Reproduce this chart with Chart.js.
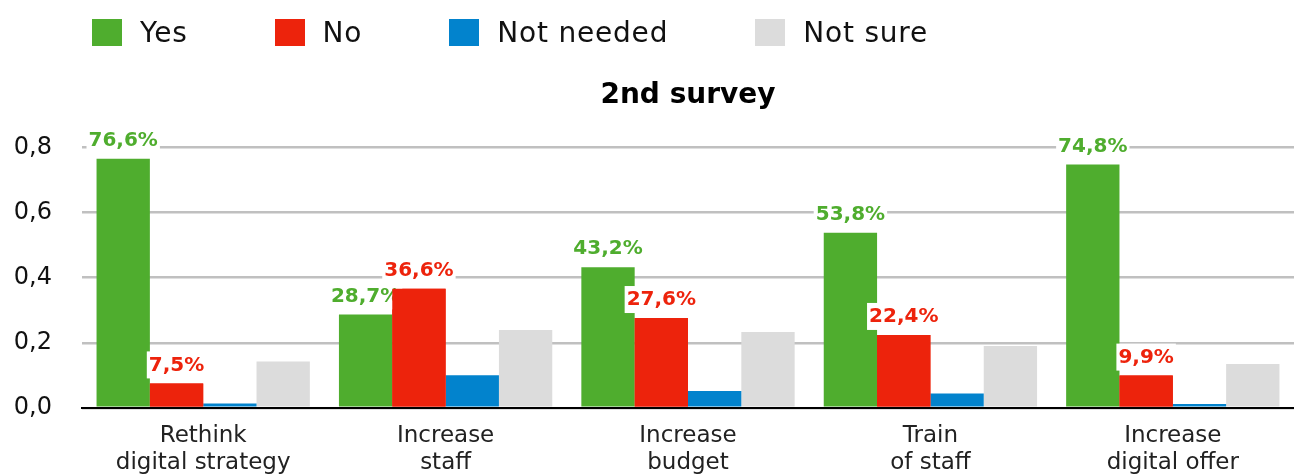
<!DOCTYPE html>
<html>
<head>
<meta charset="utf-8">
<script src="https://cdn.jsdelivr.net/npm/chart.js@4.4.1/dist/chart.umd.min.js"></script>
<style>
  html, body { margin: 0; padding: 0; background: #fff; overflow: hidden; }
  #wrap { position: relative; width: 1294px; height: 495px; }
  #legend { position: absolute; left: 92px; top: 16px; display: flex; align-items: center;
            font-family: "DejaVu Sans", sans-serif; font-size: 28px; color: #111; letter-spacing: 0.8px; }
  .item { display: flex; align-items: center; margin-right: 87px; }
  .sw { width: 30px; height: 27px; margin-right: 18px; }
  #chartBox { position: absolute; left: 0; top: 0; width: 1294px; height: 495px; }
</style>
</head>
<body>
<div id="wrap">
  <div id="chartBox"><canvas id="c"></canvas></div>
  <div id="legend"></div>
</div>
<script>
const categories = [
  ["Rethink", "digital strategy"],
  ["Increase", "staff"],
  ["Increase", "budget"],
  ["Train", "of staff"],
  ["Increase", "digital offer"]
];
const seriesNames = ["Yes", "No", "Not needed", "Not sure"];
const yesValues       = [0.766, 0.287, 0.432, 0.538, 0.748];
const noValues        = [0.075, 0.366, 0.276, 0.224, 0.099];
const notNeededValues = [0.013, 0.100, 0.052, 0.044, 0.012];
const notSureValues   = [0.142, 0.239, 0.233, 0.190, 0.135];
const yTicks = [0, 0.2, 0.4, 0.6, 0.8];
const titleText = "2nd survey";
const labelledSeries = [0, 1];

const colors = ["#4FAD2E", "#ED230C", "#0283CD", "#DCDCDC"];
const allValues = [yesValues, noValues, notNeededValues, notSureValues];

// HTML legend
const legend = document.getElementById('legend');
seriesNames.forEach((n, i) => {
  const it = document.createElement('div'); it.className = 'item';
  const sw = document.createElement('div'); sw.className = 'sw'; sw.style.background = colors[i];
  const tx = document.createElement('span'); tx.textContent = n;
  it.appendChild(sw); it.appendChild(tx); legend.appendChild(it);
});

const fmtPct = v => (v * 100).toFixed(1).replace('.', ',') + '%';

const valueLabels = {
  id: 'valueLabels',
  afterDatasetsDraw(chart) {
    const ctx = chart.ctx;
    const area = chart.chartArea;
    labelledSeries.forEach((di, k) => {
      const meta = chart.getDatasetMeta(di);
      // series drawn after the first one are painted again over previous labels
      if (k > 0) {
        ctx.save();
        ctx.beginPath();
        ctx.rect(area.left, area.top - 50, area.right - area.left, area.bottom - area.top + 50);
        ctx.clip();
        meta.data.forEach(bar => bar.draw(ctx));
        ctx.restore();
      }
      ctx.save();
      ctx.font = 'bold 20px "DejaVu Sans", sans-serif';
      ctx.textAlign = 'center';
      ctx.textBaseline = 'middle';
      meta.data.forEach((bar, i) => {
        const txt = fmtPct(chart.data.datasets[di].data[i]);
        const w = ctx.measureText(txt).width;
        const cy = bar.y - 19;
        ctx.fillStyle = '#fff';
        ctx.fillRect(bar.x - w / 2 - 2, cy - 13, w + 4, 27);
        ctx.fillStyle = colors[di];
        ctx.fillText(txt, bar.x, cy + 1);
      });
      ctx.restore();
    });
  }
};

new Chart(document.getElementById('c'), {
  type: 'bar',
  data: {
    labels: categories,
    datasets: seriesNames.map((n, i) => ({
      label: n,
      data: allValues[i],
      backgroundColor: colors[i],
      borderWidth: 0,
      categoryPercentage: 0.88,
      barPercentage: 1.0
    }))
  },
  options: {
    responsive: true,
    maintainAspectRatio: false,
    animation: false,
    layout: { padding: { top: 68, left: 12, right: 0, bottom: 4 } },
    plugins: {
      legend: { display: false },
      tooltip: { enabled: false },
      title: {
        display: true,
        text: titleText,
        fullSize: false,
        color: '#000',
        font: { family: '"DejaVu Sans", sans-serif', size: 28, weight: 'bold' },
        padding: { top: 11, bottom: 35 }
      }
    },
    scales: {
      x: {
        grid: { display: false, drawTicks: false },
        border: { display: true, color: '#000', width: 2 },
        afterFit(scale) { scale.paddingLeft = 0; scale.paddingRight = 0; },
        ticks: {
          color: '#222',
          padding: 14,
          maxRotation: 0,
          font: { family: '"DejaVu Sans", sans-serif', size: 23, lineHeight: 1.2 }
        }
      },
      y: {
        min: 0, max: 0.8,
        afterBuildTicks(axis) { axis.ticks = yTicks.map(v => ({ value: v })); },
        afterFit(scale) { scale.width = 70; },
        grid: { color: '#C0C0C0', lineWidth: 2.5, drawTicks: false },
        border: { display: false },
        ticks: {
          color: '#111',
          padding: 30,
          font: { family: '"DejaVu Sans", sans-serif', size: 24 },
          callback: v => v.toFixed(1).replace('.', ',')
        }
      }
    }
  },
  plugins: [valueLabels]
});
</script>
</body>
</html>
